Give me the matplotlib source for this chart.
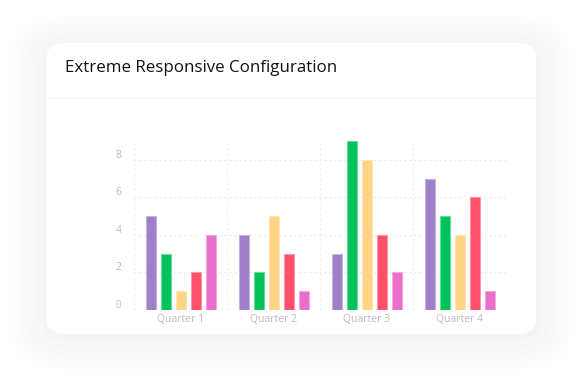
import matplotlib
matplotlib.use("Agg")
import matplotlib.pyplot as plt
from matplotlib.patches import FancyBboxPatch
from matplotlib.transforms import ScaledTranslation
import numpy as np
from matplotlib.colors import to_rgb

categories = ["Quarter 1", "Quarter 2", "Quarter 3", "Quarter 4"]
series_a = [5, 4, 3, 7]
series_b = [3, 2, 9, 5]
series_c = [1, 5, 8, 4]
series_d = [2, 3, 4, 6]
series_e = [4, 1, 2, 1]
series = [series_a, series_b, series_c, series_d, series_e]
colors = ["#a07fc9", "#00c25a", "#ffd485", "#ff4f69", "#e96fca"]
yticks = [0, 2, 4, 6, 8]

W, H = 584, 386
fig = plt.figure(figsize=(W / 100, H / 100), dpi=100)
fig.patch.set_facecolor("white")

def fx(px):
    return px / W

def fy(py):
    return 1 - py / H

# soft shadow
for i, a in enumerate(np.linspace(0.010, 0.006, 10)):
    g = 4 + i * 3.5
    sh = FancyBboxPatch((fx(47 - g), fy(336 + g)), fx(489 + 2 * g), (287 + 2 * g) / H,
                        boxstyle="round,pad=0,rounding_size=%f" % ((22 + g) / W),
                        transform=fig.transFigure, facecolor="#808090", edgecolor="none",
                        alpha=a, zorder=0)
    fig.patches.append(sh)

card = FancyBboxPatch((fx(47), fy(334)), fx(489), 291 / H,
                      boxstyle="round,pad=0,rounding_size=%f" % (20 / W),
                      transform=fig.transFigure, facecolor="white", edgecolor="none",
                      zorder=1)
fig.patches.append(card)

# separator line
fig.add_artist(plt.Line2D([fx(47), fx(536)], [fy(98), fy(98)], transform=fig.transFigure,
                          color="#f4f4f6", lw=1, zorder=2))

fig.text(fx(65), fy(68), "Extreme Responsive Configuration", fontsize=12.2,
         family=["Open Sans", "DejaVu Sans"], color="#111111", va="center", ha="left",
         zorder=3)

ax = fig.add_axes([fx(134), fy(310), fx(372), 169 / H])
ax.set_facecolor("none")
ax.set_zorder(3)
x = np.arange(len(categories))
step = 15 / 93
width = 10 / 93
for i, (vals, c) in enumerate(zip(series, colors)):
    rgb = np.array(to_rgb(c))
    edge = tuple(rgb * 0.6 + 0.4)
    ax.bar(x + (i - 2) * step, vals, width=width, color=c, edgecolor=edge,
           linewidth=0.8, zorder=3)

ax.set_xlim(-0.5, 3.5)
ax.set_ylim(0, 9)
ax.set_yticks(yticks)
ax.set_xticks(x)
ax.set_xticklabels(categories)
for lab in ax.get_xticklabels() + ax.get_yticklabels():
    lab.set_family(["Open Sans", "DejaVu Sans"])
    lab.set_fontsize(7.5)
    lab.set_color("#b6bbc4")
ax.tick_params(length=0)
ax.tick_params(axis="y", pad=9)
ax.tick_params(axis="x", pad=3)
offset = ScaledTranslation(0, 6 / 100, fig.dpi_scale_trans)
for lab in ax.get_yticklabels():
    lab.set_transform(lab.get_transform() + offset)
for s in ax.spines.values():
    s.set_visible(False)
for yv in yticks:
    ax.axhline(yv, color="#e8e8ec", lw=0.9, ls=(0, (1.5, 2.5)), zorder=1)
for xv in [-0.5, 0.5, 1.5, 2.5, 3.5]:
    ax.axvline(xv, color="#ececf0", lw=0.9, ls=(0, (1.5, 2.5)), zorder=1)

fig.savefig("out.png", dpi=100, facecolor="white")
